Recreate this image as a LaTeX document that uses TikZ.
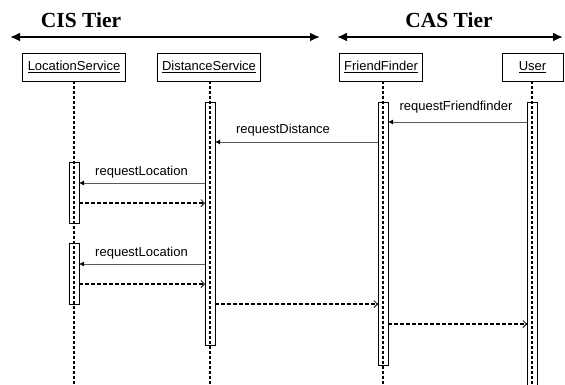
\documentclass[tikz,border=0pt]{standalone}
\usepackage{fontspec}
\setmainfont{Liberation Serif}
\newfontfamily\arial{Liberation Sans}
\usetikzlibrary{arrows.meta}
\begin{document}
\begin{tikzpicture}[x=1pt,y=-1pt,
  objbox/.style={draw,line width=0.7pt,minimum height=28pt,inner sep=0pt,outer sep=0pt,font=\arial\fontsize{13}{15}\selectfont},
  actbar/.style={draw,line width=0.7pt,minimum width=10pt,inner sep=0pt,outer sep=0pt},
  lifeline/.style={line width=1.2pt,dash pattern=on 3pt off 2pt},
  tier/.style={line width=2.5pt,{Latex[length=10pt,width=9pt]}-{Latex[length=10pt,width=9pt]}},
  tiertext/.style={font=\bfseries\fontsize{21.5}{24}\selectfont},
  callmsg/.style={draw=black!65,line width=0.9pt,-{Latex[length=5pt,width=5pt,fill=black,color=black]}},
  retmsg/.style={line width=1.1pt,dash pattern=on 4pt off 2pt,-{Straight Barb[length=3.5pt,width=7pt,line width=0.8pt]}},
  lbl/.style={font=\arial\fontsize{13}{15}\selectfont,inner sep=0pt}]
\useasboundingbox (0,0) rectangle (565,384);

% tiers
\node[tiertext] (cis) at (81,20) {CIS Tier};
\node[tiertext] (cas) at (449,20) {CAS Tier};
\coordinate (cisL) at (10,37);
\coordinate (cisR) at (320,37);
\coordinate (casL) at (337,37);
\coordinate (casR) at (563,37);
\draw[tier] (cisL) -- (cisR);
\draw[tier] (casL) -- (casR);

% objects
\node[objbox,minimum width=103pt] (ls) at (74,67) {\underline{LocationService}};
\node[objbox,minimum width=103pt] (ds) at (209,67) {\underline{DistanceService}};
\node[objbox,minimum width=83pt] (ff) at (381,67) {\underline{FriendFinder}};
\node[objbox,minimum width=61pt] (us) at (532.5,67) {\underline{User}};

% activation bars
\node[actbar,minimum height=243pt] (dsb) at (210,223.5) {};
\node[actbar,minimum height=263pt] (ffb) at (383,233.5) {};
\node[actbar,minimum height=290pt] (usb) at (532,247) {};
\node[actbar,minimum height=61pt] (lsb1) at (74,192.5) {};
\node[actbar,minimum height=61pt] (lsb2) at (74,273.5) {};

% lifelines
\coordinate (bot) at (0,384);
\draw[lifeline] (ls.south -| lsb1) -- (lsb1.center |- bot);
\draw[lifeline] (ds.south -| dsb) -- (dsb.center |- bot);
\draw[lifeline] (ff.south -| ffb) -- (ffb.center |- bot);
\draw[lifeline] (us.south -| usb) -- (usb.center |- bot);

% message levels
\coordinate (y1) at (0,122);
\coordinate (y2) at (0,142);
\coordinate (y3) at (0,183);
\coordinate (y4) at (0,203);
\coordinate (y5) at (0,264);
\coordinate (y6) at (0,284);
\coordinate (y7) at (0,304);
\coordinate (y8) at (0,324);

\draw[callmsg] (usb.west |- y1) -- (ffb.east |- y1);
\node[lbl] (m1) at (456,107) {requestFriendfinder};
\draw[callmsg] (ffb.west |- y2) -- (dsb.east |- y2);
\node[lbl] (m2) at (283,130) {requestDistance};
\draw[callmsg] (dsb.west |- y3) -- (lsb1.east |- y3);
\node[lbl] (m3) at (141.5,172) {requestLocation};
\draw[retmsg] (lsb1.east |- y4) -- (dsb.west |- y4);
\draw[callmsg] (dsb.west |- y5) -- (lsb2.east |- y5);
\node[lbl] (m4) at (141.5,253) {requestLocation};
\draw[retmsg] (lsb2.east |- y6) -- (dsb.west |- y6);
\draw[retmsg] (dsb.east |- y7) -- (ffb.west |- y7);
\draw[retmsg] (ffb.east |- y8) -- (usb.west |- y8);
\end{tikzpicture}
\end{document}
